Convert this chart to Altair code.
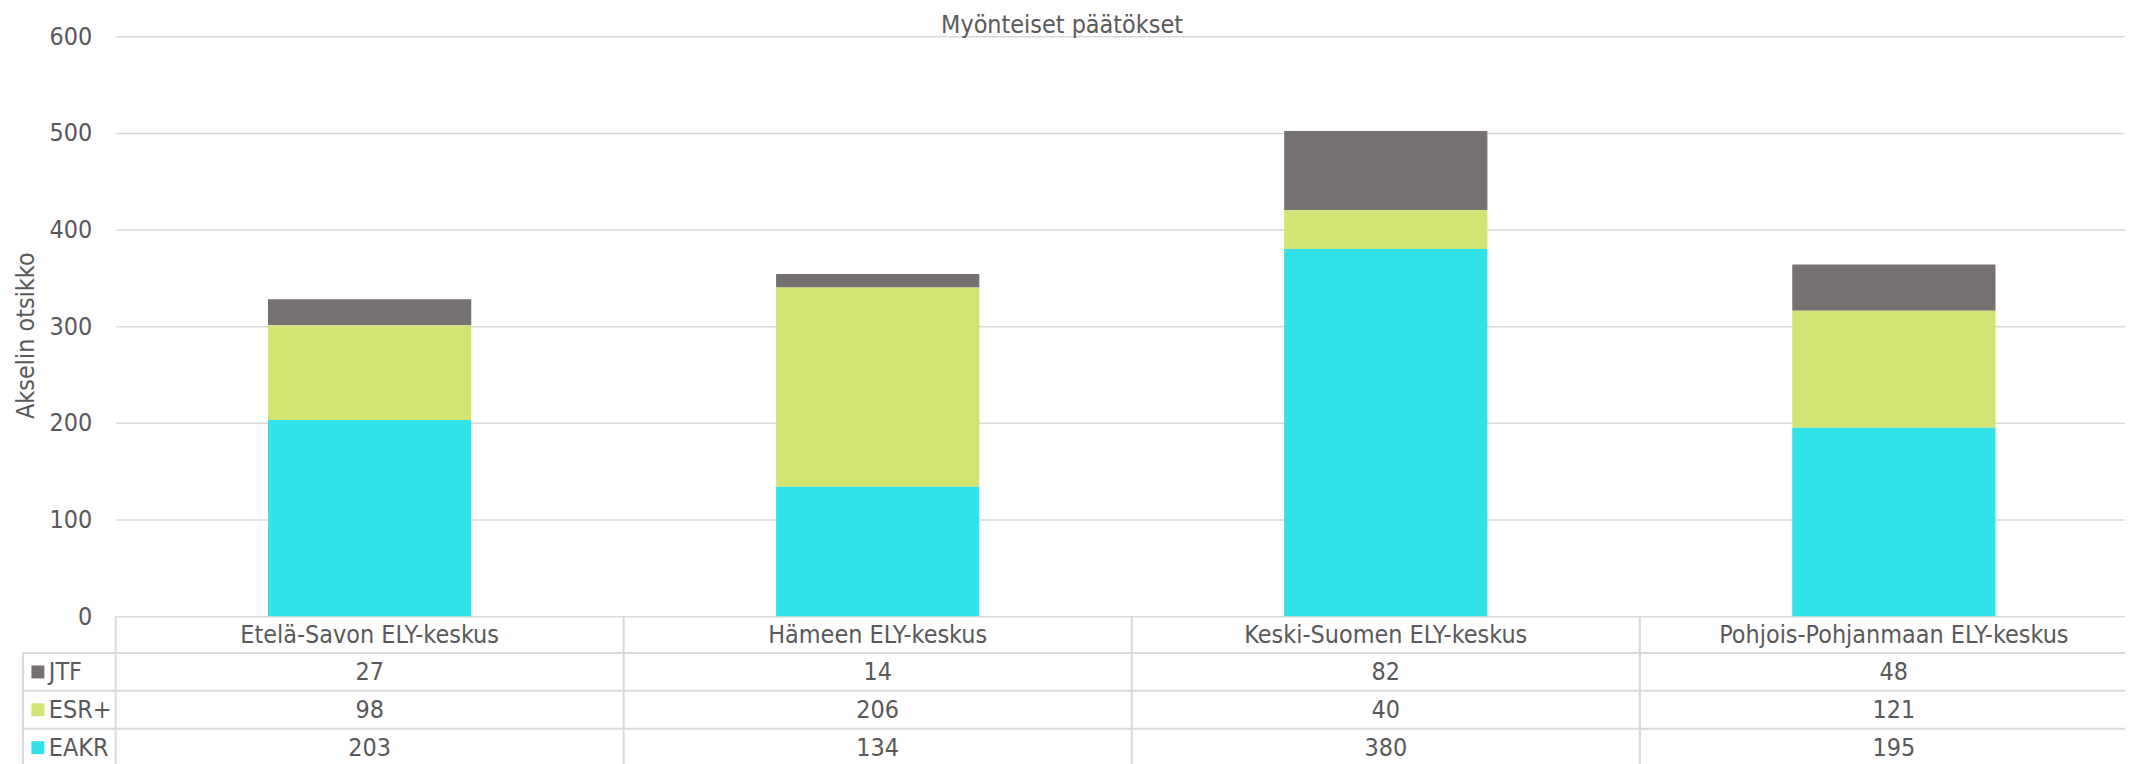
import altair as alt
import pandas as pd

categories = ["Etelä-Savon ELY-keskus", "Hämeen ELY-keskus",
              "Keski-Suomen ELY-keskus", "Pohjois-Pohjanmaan ELY-keskus"]
series = ["JTF", "ESR+", "EAKR"]
colors = ["#767171", "#D3E473", "#31E2E9"]
jtf = [27, 14, 82, 48]
esr = [98, 206, 40, 121]
eakr = [203, 134, 380, 195]
y_ticks = [0, 100, 200, 300, 400, 500, 600]
title_text = "Myönteiset päätökset"
y_title = "Akselin otsikko"

stack_order = {"EAKR": 0, "ESR+": 1, "JTF": 2}
records = []
for s, vals in zip(series, [jtf, esr, eakr]):
    for c, v in zip(categories, vals):
        records.append({"category": c, "series": s, "value": v, "order": stack_order[s]})
df = pd.DataFrame(records)
cat_df = pd.DataFrame({"category": categories})

W, H = 2017, 582
FONT = "Liberation Sans Narrow, DejaVu Sans Condensed, sans-serif"
TXT = "#595959"
GRID = "#D9D9D9"
FS = 25

xscale = alt.Scale(domain=categories, range=[0, 2040], paddingInner=0, paddingOuter=0)
x_enc = alt.X("category:N", sort=categories, scale=xscale, axis=None)
color_enc = alt.Color("series:N", scale=alt.Scale(domain=series, range=colors), legend=None)

bars = alt.Chart(df).mark_bar(width=alt.RelativeBandSize(0.4)).encode(
    x=x_enc,
    y=alt.Y("value:Q", stack="zero", scale=alt.Scale(domain=[0, 600], nice=False),
            axis=alt.Axis(values=y_ticks, grid=True, gridColor=GRID, gridWidth=1.5,
                          domain=False, ticks=False, labelPadding=24, labelFont=FONT,
                          labelFontSize=FS, labelColor=TXT, title=y_title, titleFont=FONT,
                          titleFontSize=FS, titleColor=TXT, titleFontWeight="normal",
                          titlePadding=10, titleY=300)),
    color=color_enc,
    order=alt.Order("order:Q"),
)

layers = [bars]

# chart title
layers.append(alt.Chart(pd.DataFrame({"t": [title_text]})).mark_text(
    font=FONT, fontSize=FS, color=TXT, baseline="alphabetic", align="center"
).encode(x=alt.value(950), y=alt.value(-3), text="t:N"))

# table geometry (rows below plot)
row_top = [582, 619, 657, 695]
row_bottom = 733
row_mid = [(a + b) / 2 for a, b in zip(row_top, row_top[1:] + [row_bottom])]

# header row with category names
layers.append(alt.Chart(cat_df).mark_text(font=FONT, fontSize=FS, color=TXT, baseline="middle").encode(
    x=x_enc, y=alt.value(row_mid[0]), text="category:N"))

for i, s in enumerate(series):
    ym = row_mid[i + 1]
    sub = df[df["series"] == s]
    layers.append(alt.Chart(sub).mark_text(font=FONT, fontSize=FS, color=TXT, baseline="middle").encode(
        x=x_enc, y=alt.value(ym), text="value:Q"))
    head = pd.DataFrame({"series": [s]})
    layers.append(alt.Chart(head).mark_square(size=169, opacity=1, filled=True).encode(
        x=alt.value(-78), y=alt.value(ym), color=color_enc))
    layers.append(alt.Chart(head).mark_text(font=FONT, fontSize=FS, color=TXT, align="left",
                                            baseline="middle").encode(
        x=alt.value(-67), y=alt.value(ym), text="series:N"))

# horizontal table lines
for yy in row_top[1:] + [row_bottom]:
    layers.append(alt.Chart(cat_df.head(1)).mark_rule(color=GRID, strokeWidth=2).encode(
        x=alt.value(-93), x2=alt.value(W), y=alt.value(yy)))
# left border of row-header column
layers.append(alt.Chart(cat_df.head(1)).mark_rule(color=GRID, strokeWidth=2).encode(
    x=alt.value(-93), y=alt.value(row_top[1]), y2=alt.value(row_bottom)))
# vertical column borders
layers.append(alt.Chart(cat_df).mark_rule(color=GRID, strokeWidth=2).encode(
    x=alt.X("category:N", sort=categories, scale=xscale, axis=None, bandPosition=0),
    y=alt.value(row_top[0]), y2=alt.value(row_bottom)))

chart = alt.layer(*layers).properties(
    width=W, height=H,
    autosize=alt.AutoSizeParams(type="none"),
    padding={"left": 108, "top": 27, "right": 0, "bottom": 147},
).configure_view(stroke=None)

chart.save("out.html", embed_options={"renderer": "svg", "actions": False})
